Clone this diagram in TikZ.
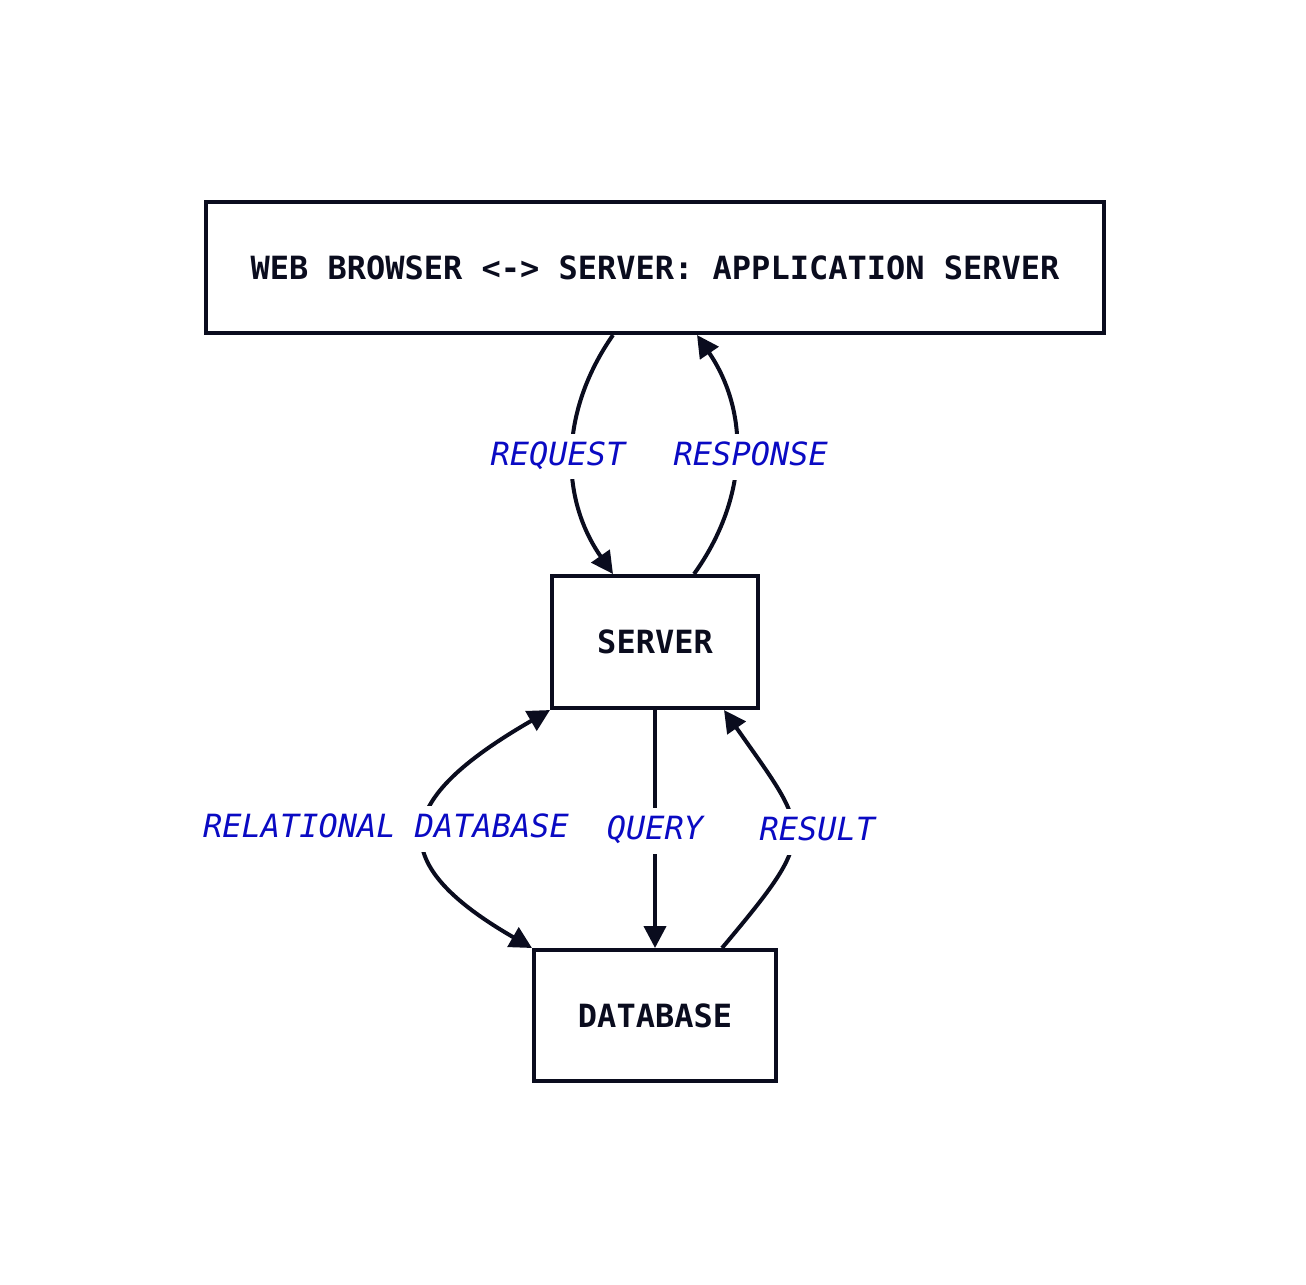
\documentclass[tikz,border=0pt]{standalone}
\usepackage{fontspec}
\setmonofont{DejaVu Sans Mono}
\usetikzlibrary{arrows.meta}
\definecolor{ink}{RGB}{10,12,30}
\definecolor{lblblue}{RGB}{10,10,195}
\tikzset{
	head/.tip={Triangle[length=0.22cm,width=0.22cm]},
	box/.style={draw=ink, line width=0.04cm, inner sep=0pt, text=ink, font=\ttfamily\bfseries\fontsize{9.1}{11}\selectfont},
	link/.style={draw=ink, line width=0.04cm, -head},
	lbl/.style={fill=white, inner sep=2pt, text height=7pt, text depth=2pt, text=lblblue, font=\ttfamily\itshape\fontsize{9.1}{11}\selectfont}
}
\begin{document}
\begin{tikzpicture}
	\useasboundingbox (0,0) rectangle (13.06,-12.84);
	
	\node[box, minimum width=8.98cm, minimum height=1.31cm] (web) at (6.55,-2.675) {WEB BROWSER <-> SERVER: APPLICATION SERVER};
	\node[box, minimum width=2.06cm, minimum height=1.32cm] (server) at (6.55,-6.42) {SERVER};
	\node[box, minimum width=2.42cm, minimum height=1.31cm] (db) at (6.55,-10.155) {DATABASE};
	
	% browser <-> server
	\draw[link] ([xshift=-0.42cm]web.south) to[bend right=35] node[lbl, xshift=-0.15cm, yshift=-0.02cm] {REQUEST} ([xshift=-0.42cm]server.north);
	\draw[link] ([xshift=0.39cm]server.north) to[bend right=35] node[lbl, xshift=0.15cm, yshift=-0.02cm] {RESPONSE} ([xshift=0.42cm]web.south);
	
	% server <-> database
	\draw[link, head-head] (server.south west) to[out=210, in=150, looseness=1.9] node[lbl, xshift=-0.4cm] {RELATIONAL DATABASE} (db.north west);
	\draw[link] (server.south) -- node[lbl, yshift=-0.02cm] {QUERY} (db.north);
	\draw[link] ([xshift=0.67cm]db.north) to[out=50, in=-55, looseness=1.63] node[lbl, xshift=0.25cm] {RESULT} ([xshift=0.69cm]server.south);
	
\end{tikzpicture}
\end{document}
